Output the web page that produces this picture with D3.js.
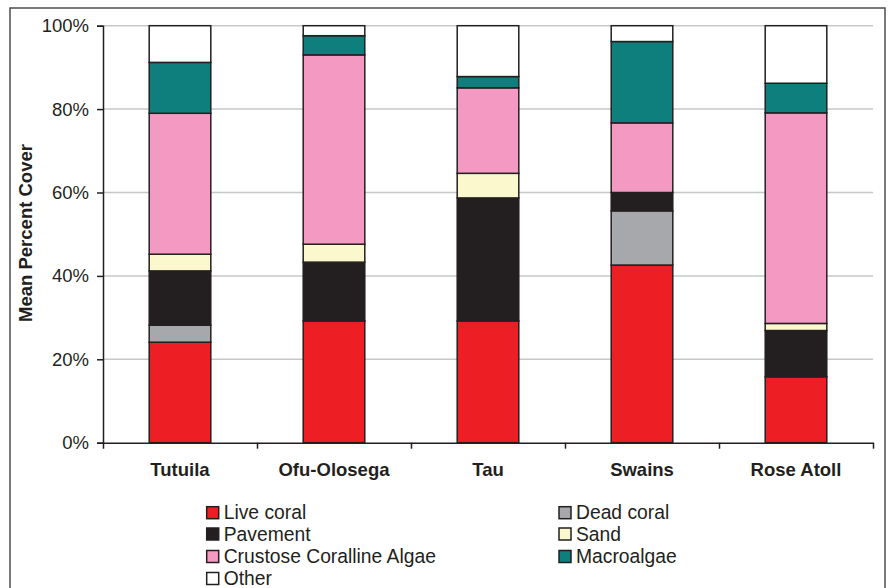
<!DOCTYPE html>
<html>
<head>
<meta charset="utf-8">
<script src="https://cdn.jsdelivr.net/npm/d3@7"></script>
<style>
  html, body { margin: 0; padding: 0; background: #fff; }
  svg { display: block; font-family: "Liberation Sans", Arial, sans-serif; }
</style>
</head>
<body>
<svg id="chart" width="889" height="588"></svg>
<script>
// ---- data ----
const sites = ["Tutuila", "Ofu-Olosega", "Tau", "Swains", "Rose Atoll"];
const categories = ["Live coral", "Dead coral", "Pavement", "Sand", "Crustose Coralline Algae", "Macroalgae", "Other"];
const liveCoral  = [24.1, 29.2, 29.2, 42.6, 15.8];
const deadCoral  = [4.1,  0,    0,    13.0, 0];
const pavement   = [13.0, 14.1, 29.5, 4.4,  11.1];
const sand       = [4.0,  4.3,  5.9,  0,    1.7];
const cca        = [33.8, 45.4, 20.5, 16.7, 50.5];
const macroalgae = [12.2, 4.6,  2.7,  19.5, 7.1];
const other      = [8.8,  2.4,  12.2, 3.8,  13.8];
const yTicks = [0, 20, 40, 60, 80, 100];
const legendOrder = [["Live coral", "Dead coral"], ["Pavement", "Sand"], ["Crustose Coralline Algae", "Macroalgae"], ["Other", null]];

const colors = {
  "Live coral": "#ed1f24",
  "Dead coral": "#a6a8ab",
  "Pavement": "#231f20",
  "Sand": "#fbf8cd",
  "Crustose Coralline Algae": "#f49ac2",
  "Macroalgae": "#0e7f7c",
  "Other": "#ffffff"
};

const seriesArrays = [liveCoral, deadCoral, pavement, sand, cca, macroalgae, other];
const table = sites.map((s, i) => {
  const row = { site: s };
  categories.forEach((c, j) => row[c] = seriesArrays[j][i]);
  return row;
});

// ---- layout ----
const svg = d3.select("#chart");
const margin = { left: 103, right: 873, top: 25.7, bottom: 442.7 };

// outer frame
svg.append("rect")
  .attr("x", 10).attr("y", 8)
  .attr("width", 875).attr("height", 600)
  .attr("fill", "none").attr("stroke", "#4d4d4d").attr("stroke-width", 1.5);

const x = d3.scaleBand().domain(sites).range([margin.left, margin.right]).paddingInner(0.6).paddingOuter(0.3);
const y = d3.scaleLinear().domain([0, 100]).range([margin.bottom, margin.top]);

// gridlines
svg.append("g").selectAll("line").data(yTicks.filter(d => d > 0)).join("line")
  .attr("x1", margin.left).attr("x2", margin.right)
  .attr("y1", d => y(d)).attr("y2", d => y(d))
  .attr("stroke", "#c8c8c8").attr("stroke-width", 1.5);

// stacked bars
const stack = d3.stack().keys(categories);
const stacked = stack(table);
svg.append("g").selectAll("g").data(stacked).join("g")
  .attr("fill", d => colors[d.key])
  .selectAll("rect").data(d => d.filter(p => p[1] - p[0] > 0)).join("rect")
  .attr("x", d => x(d.data.site))
  .attr("width", x.bandwidth())
  .attr("y", d => y(d[1]))
  .attr("height", d => y(d[0]) - y(d[1]))
  .attr("stroke", "#231f20").attr("stroke-width", 1.5);

// y axis
const yAxis = d3.axisLeft(y).tickValues(yTicks).tickFormat(d => d + "%").tickSize(6).tickPadding(8);
const gy = svg.append("g").attr("transform", `translate(${margin.left},0)`).call(yAxis);
gy.select(".domain").attr("stroke", "#231f20").attr("stroke-width", 1.5);
gy.selectAll(".tick line").attr("stroke", "#231f20").attr("stroke-width", 1.5);
gy.selectAll(".tick text").attr("font-size", 18.5).attr("fill", "#231f20")
  .attr("font-family", "'Liberation Sans', Arial, sans-serif");

// x axis (ticks between categories)
const xLine = d3.scaleLinear().domain([0, sites.length]).range([margin.left, margin.right]);
const gx = svg.append("g").attr("transform", `translate(0,${margin.bottom})`);
gx.call(d3.axisBottom(xLine).tickValues(d3.range(sites.length + 1)).tickFormat("").tickSize(6).tickSizeOuter(0));
gx.select(".domain").attr("stroke", "#231f20").attr("stroke-width", 1.5);
gx.selectAll(".tick line").attr("stroke", "#231f20").attr("stroke-width", 1.5);

svg.append("g").selectAll("text").data(sites).join("text")
  .attr("x", d => x(d) + x.bandwidth() / 2)
  .attr("y", 476)
  .attr("text-anchor", "middle")
  .attr("font-size", 18.5).attr("font-weight", "bold").attr("fill", "#231f20")
  .text(d => d);

// y title
svg.append("text")
  .attr("transform", "translate(32,233) rotate(-90)")
  .attr("text-anchor", "middle")
  .attr("font-size", 18.5).attr("font-weight", "bold").attr("fill", "#231f20")
  .text("Mean Percent Cover");

// legend
const legendCols = [206.7, 559];
const legendRowY = [506.7, 528, 550.5, 572.5];
const lg = svg.append("g");
legendOrder.forEach((row, r) => {
  row.forEach((name, c) => {
    if (!name) return;
    const g = lg.append("g").attr("transform", `translate(${legendCols[c]},${legendRowY[r]})`);
    g.append("rect").attr("x", 0).attr("y", 0).attr("width", 12).attr("height", 12)
      .attr("fill", colors[name]).attr("stroke", "#231f20").attr("stroke-width", 1.5);
    g.append("text").attr("x", 17).attr("y", 12.5)
      .attr("font-size", 19.3).attr("fill", "#231f20").text(name);
  });
});
</script>
</body>
</html>
